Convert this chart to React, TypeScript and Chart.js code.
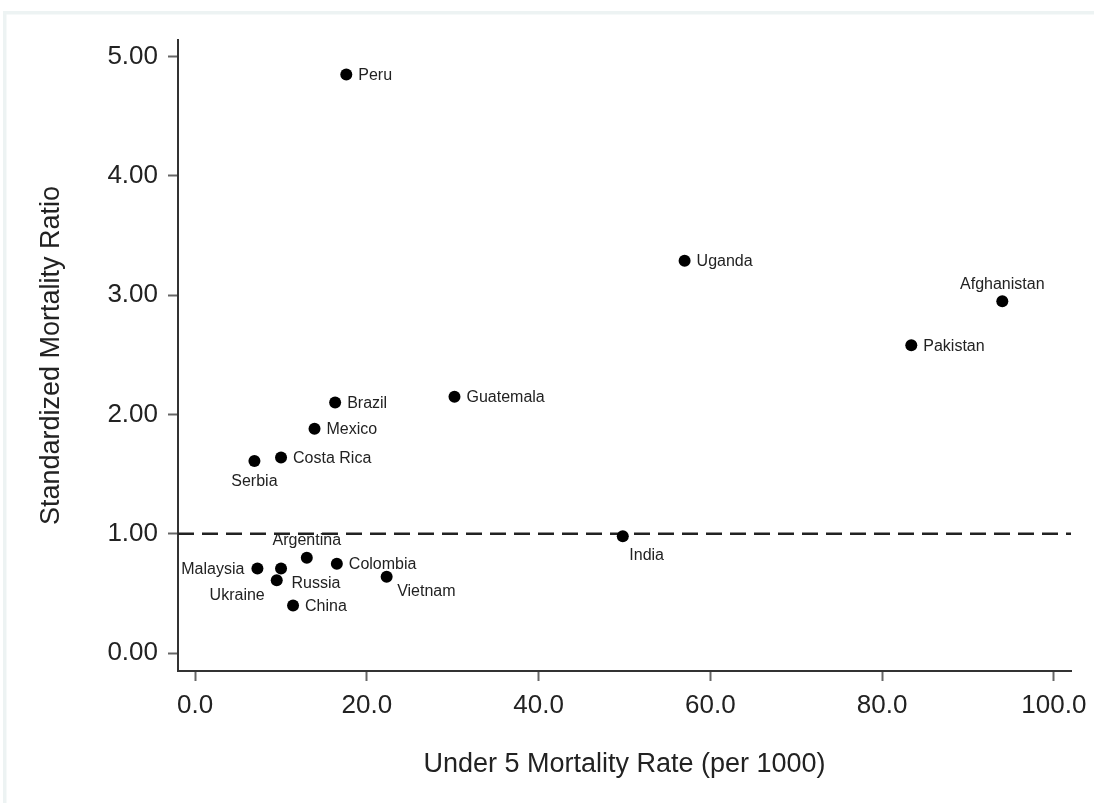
import React, { useEffect, useRef } from "react";
import { Chart, registerables } from "chart.js";

Chart.register(...registerables);

// Country-level data: under-5 mortality (per 1000) vs standardized mortality ratio
const countries = [
  "Peru", "Uganda", "Afghanistan", "Pakistan", "India", "Guatemala", "Brazil",
  "Mexico", "Costa Rica", "Serbia", "Argentina", "Malaysia", "Russia",
  "Ukraine", "China", "Colombia", "Vietnam",
];
const under5Mortality = [
  17.6, 57.0, 94.0, 83.4, 49.8, 30.2, 16.3,
  13.9, 10.0, 6.9, 13.0, 7.25, 10.0,
  9.5, 11.4, 16.5, 22.3,
];
const mortalityRatio = [
  4.85, 3.29, 2.95, 2.58, 0.98, 2.15, 2.10,
  1.88, 1.64, 1.61, 0.80, 0.71, 0.71,
  0.61, 0.40, 0.75, 0.64,
];

const xTickValues = [0, 20, 40, 60, 80, 100];
const xTickLabels = ["0.0", "20.0", "40.0", "60.0", "80.0", "100.0"];
const yTickValues = [0, 1, 2, 3, 4, 5];
const yTickLabels = ["0.00", "1.00", "2.00", "3.00", "4.00", "5.00"];

const referenceRatio = 1;

// Marker-label placement as clock positions around each point
const labelClock: Record<string, number> = {
  Peru: 3, Uganda: 3, Afghanistan: 12, Pakistan: 3, India: 5, Guatemala: 3,
  Brazil: 3, Mexico: 3, "Costa Rica": 3, Serbia: 6, Argentina: 12,
  Malaysia: 9, Russia: 4, Ukraine: 7, China: 3, Colombia: 3, Vietnam: 4,
};

const FONT = "'Liberation Sans', Arial, sans-serif";
const INK = "#222222";

const clockOffsets: Record<number, { dx: number; dy: number; align: CanvasTextAlign }> = {
  3: { dx: 12, dy: 1, align: "left" },
  12: { dx: 0, dy: -17, align: "center" },
  6: { dx: 0, dy: 20.5, align: "center" },
  9: { dx: -13, dy: 1, align: "right" },
  4: { dx: 10.5, dy: 15, align: "left" },
  5: { dx: 6.5, dy: 19, align: "left" },
  7: { dx: -12, dy: 15, align: "right" },
};

const framePlugin = {
  id: "frame",
  beforeDraw(chart: any) {
    const { ctx, width, height } = chart;
    ctx.save();
    ctx.fillStyle = "#ffffff";
    ctx.fillRect(0, 0, width, height);
    ctx.fillStyle = "#edf3f3";
    ctx.fillRect(3, 11, width - 3, 3.5);
    ctx.fillRect(3, 11, 3.5, height - 11);
    ctx.restore();
  },
};

const referenceLinePlugin = {
  id: "referenceLine",
  beforeDatasetsDraw(chart: any) {
    const { ctx, chartArea, scales } = chart;
    const y = scales.y.getPixelForValue(referenceRatio);
    ctx.save();
    ctx.strokeStyle = "#222222";
    ctx.lineWidth = 2.5;
    ctx.setLineDash([16, 8]);
    ctx.beginPath();
    ctx.moveTo(chartArea.left, y);
    ctx.lineTo(chartArea.right, y);
    ctx.stroke();
    ctx.restore();
  },
};

const pointLabelPlugin = {
  id: "pointLabels",
  afterDatasetsDraw(chart: any) {
    const { ctx } = chart;
    const meta = chart.getDatasetMeta(0);
    ctx.save();
    ctx.font = `16px ${FONT}`;
    ctx.fillStyle = INK;
    ctx.textBaseline = "middle";
    meta.data.forEach((el: any, i: number) => {
      const name = countries[i];
      const o = clockOffsets[labelClock[name] ?? 3];
      const { x, y } = el.getProps(["x", "y"], true);
      ctx.textAlign = o.align;
      ctx.fillText(name, x + o.dx, y + o.dy);
    });
    ctx.restore();
  },
};

export default function App() {
  const canvasRef = useRef<HTMLCanvasElement | null>(null);

  useEffect(() => {
    if (!canvasRef.current) return;
    const points = countries.map((_, i) => ({ x: under5Mortality[i], y: mortalityRatio[i] }));

    const chart = new Chart(canvasRef.current, {
      type: "scatter",
      data: {
        datasets: [
          {
            label: "Countries",
            data: points,
            pointRadius: 6,
            pointHoverRadius: 6,
            pointBackgroundColor: "#000000",
            pointBorderWidth: 0,
          },
        ],
      },
      options: {
        responsive: false,
        animation: false,
        events: [],
        layout: { padding: { left: 0, right: 23, top: 40, bottom: 0 } },
        plugins: {
          legend: { display: false },
          tooltip: { enabled: false },
        },
        scales: {
          x: {
            type: "linear",
            min: -2,
            max: 102,
            afterBuildTicks: (scale: any) => {
              scale.ticks = xTickValues.map((v) => ({ value: v }));
            },
            afterFit: (scale: any) => {
              scale.height = 132;
              scale.paddingLeft = 0;
              scale.paddingRight = 0;
            },
            ticks: {
              autoSkip: false,
              maxRotation: 0,
              padding: 9,
              color: INK,
              font: { family: FONT, size: 26 },
              callback: (value: any) => {
                const i = xTickValues.indexOf(Number(value));
                return i >= 0 ? xTickLabels[i] : "";
              },
            },
            grid: {
              drawOnChartArea: false,
              drawTicks: true,
              tickLength: 10,
              tickColor: "#666666",
              tickWidth: 2,
            },
            border: { display: true, color: "#333333", width: 2 },
            title: {
              display: true,
              text: "Under 5 Mortality Rate (per 1000)",
              color: INK,
              font: { family: FONT, size: 27 },
              padding: { top: 0, bottom: 22.5 },
            },
          },
          y: {
            type: "linear",
            min: -0.15,
            max: 5.14,
            afterBuildTicks: (scale: any) => {
              scale.ticks = yTickValues.map((v) => ({ value: v }));
            },
            afterFit: (scale: any) => {
              scale.width = 178;
              scale.paddingTop = 0;
              scale.paddingBottom = 0;
            },
            ticks: {
              autoSkip: false,
              padding: 10,
              color: INK,
              font: { family: FONT, size: 26 },
              callback: (value: any) => {
                const i = yTickValues.indexOf(Number(value));
                return i >= 0 ? yTickLabels[i] : "";
              },
            },
            grid: {
              drawOnChartArea: false,
              drawTicks: true,
              tickLength: 10,
              tickColor: "#666666",
              tickWidth: 2,
            },
            border: { display: true, color: "#333333", width: 2 },
            title: {
              display: true,
              text: "Standardized Mortality Ratio",
              color: INK,
              font: { family: FONT, size: 27 },
              padding: { top: 35, bottom: 0 },
            },
          },
        },
      },
      plugins: [framePlugin, referenceLinePlugin, pointLabelPlugin],
    });

    return () => chart.destroy();
  }, []);

  return (
    <div style={{ position: "absolute", left: 0, top: 0, width: 1094, height: 803 }}>
      <canvas ref={canvasRef} width={1094} height={803} style={{ width: 1094, height: 803, display: "block" }} />
    </div>
  );
}
